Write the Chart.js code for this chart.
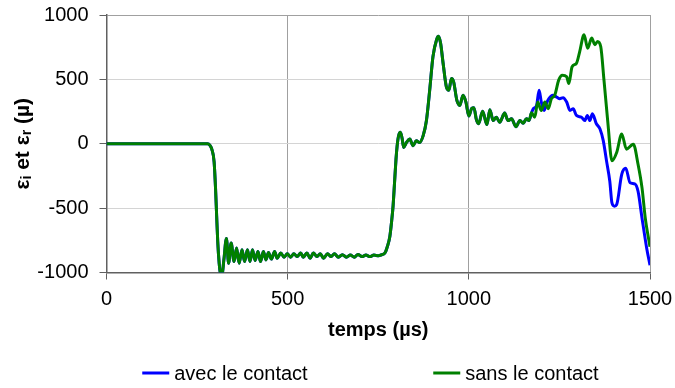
<!DOCTYPE html>
<html>
<head>
<meta charset="utf-8">
<script src="https://cdn.jsdelivr.net/npm/chart.js@4.4.1/dist/chart.umd.min.js"></script>
<style>
  html, body { margin: 0; padding: 0; background: #ffffff; }
  #c { display: block; }
</style>
</head>
<body>
<canvas id="c" width="675" height="388"></canvas>
<script>
// Signal commun aux deux essais (µs, µdéformation)
const tempsCommun = [0, 279, 285, 291, 297, 301, 304, 307, 311, 314,
  319, 324, 331, 337, 344, 352, 359, 366, 374, 381,
  389, 396, 403, 410, 418, 425, 433, 440, 447, 455,
  464, 471, 481, 490, 499, 508, 517, 526, 536, 543,
  553, 562, 571, 581, 590, 599, 610, 620, 629, 640,
  651, 662, 673, 684, 694, 705, 716, 727, 738, 751,
  759, 768, 775, 782, 787, 791, 795, 799, 802, 806,
  811, 816, 820, 828, 837, 846, 855, 864, 874, 883,
  892, 901, 911, 916, 922, 929, 938, 945, 952, 958,
  967, 975, 984, 992, 1000, 1008, 1014, 1021, 1027, 1038,
  1050, 1058, 1067, 1076, 1085, 1099, 1108, 1118, 1130, 1141,
  1150, 1159, 1166];
const deformationCommune = [0, 0, -10, -45, -140, -350, -560, -760, -930, -1000,
  -1010, -900, -735, -928, -771, -915, -810, -928, -823, -915,
  -823, -915, -823, -907, -836, -915, -836, -902, -845, -896,
  -836, -889, -849, -881, -855, -881, -855, -876, -849, -881,
  -849, -889, -849, -876, -855, -889, -855, -876, -855, -881,
  -862, -881, -865, -881, -860, -876, -865, -876, -865, -870,
  -862, -850, -800, -720, -600, -480, -300, -120, -20, 60,
  89, 40, -29, 10, 37, -16, 24, 10, 63, 180,
  416, 677, 808, 834, 782, 625, 442, 416, 507, 481,
  337, 298, 376, 324, 215, 275, 280, 185, 155, 253,
  149, 264, 180, 206, 167, 238, 180, 194, 133, 180,
  159, 194, 180];

// Fin du signal : essai avec le contact
const tempsAvec = [1173, 1178, 1187, 1194, 1200, 1208, 1214, 1221, 1232, 1242,
  1251, 1260, 1270, 1279, 1288, 1297, 1311, 1320, 1327, 1334,
  1341, 1352, 1362, 1371, 1380, 1389, 1395, 1402, 1408, 1422,
  1433, 1445, 1458, 1467, 1478, 1491, 1500];
const avecFin = [240, 272, 298, 416, 324, 259, 311, 350, 376, 363,
  350, 358, 324, 259, 272, 220, 206, 180, 220, 180,
  233, 155, 115, 24, -133, -290, -460, -485, -473, -238,
  -191, -303, -311, -369, -578, -813, -944];

// Fin du signal : essai sans le contact
const tempsSans = [1173, 1182, 1190, 1200, 1210, 1219, 1228, 1237, 1248, 1258,
  1270, 1276, 1285, 1297, 1306, 1318, 1328, 1339, 1348, 1355,
  1364, 1373, 1384, 1395, 1408, 1422, 1435, 1447, 1454, 1467,
  1478, 1487, 1500];
const sansFin = [240, 206, 324, 259, 324, 272, 350, 376, 494, 533,
  520, 468, 598, 625, 716, 847, 742, 821, 769, 795,
  755, 494, 155, -133, -68, 76, -42, -16, -3, -159,
  -343, -578, -800];

const series = ['avec le contact', 'sans le contact'];
const couleurs = ['#0000ff', '#008000'];
const ticksX = [0, 500, 1000, 1500];
const ticksY = [-1000, -500, 0, 500, 1000];

function points(t, v) { return t.map((x, i) => ({ x: x, y: v[i] })); }
const base = points(tempsCommun, deformationCommune);

const police = "'Liberation Sans', Arial, Helvetica, sans-serif";

// Titre de l'axe vertical avec indices
const titreY = {
  id: 'titreY',
  afterDraw(chart) {
    const ctx = chart.ctx;
    const a = chart.chartArea;
    const parts = [['ε', 21, 0], ['i', 14, 4], [' et ε', 21, 0], ['r', 14, 4], [' (µ)', 21, 0]];
    ctx.save();
    let total = 0;
    parts.forEach(p => { ctx.font = 'bold ' + p[1] + 'px ' + police; total += ctx.measureText(p[0]).width; });
    ctx.translate(23, (a.top + a.bottom) / 2);
    ctx.rotate(-Math.PI / 2);
    ctx.fillStyle = '#000';
    ctx.textBaseline = 'middle';
    ctx.textAlign = 'left';
    let x = -total / 2;
    parts.forEach(p => {
      ctx.font = 'bold ' + p[1] + 'px ' + police;
      ctx.fillText(p[0], x, p[2]);
      x += ctx.measureText(p[0]).width;
    });
    ctx.restore();
  }
};

// Légende sous le graphique : deux entrées de part et d'autre du centre
const legende = {
  id: 'legende',
  afterDraw(chart) {
    const ctx = chart.ctx;
    const a = chart.chartArea;
    const centre = (a.left + a.right) / 2;
    const y = 373, trait = 27, ecart = 5;
    const departs = [centre - 236, centre + 55];
    ctx.save();
    ctx.font = '20px ' + police;
    series.forEach((s, i) => {
      const x = departs[i];
      ctx.strokeStyle = couleurs[i];
      ctx.lineWidth = 3;
      ctx.beginPath();
      ctx.moveTo(x, y);
      ctx.lineTo(x + trait, y);
      ctx.stroke();
      ctx.fillStyle = '#000';
      ctx.textBaseline = 'middle';
      ctx.textAlign = 'left';
      ctx.fillText(s, x + trait + ecart, y + 1);
    });
    ctx.restore();
  }
};

const sansSeparateur = v => String(v);

new Chart(document.getElementById('c'), {
  type: 'line',
  data: {
    datasets: [
      {
        label: series[0],
        data: base.concat(points(tempsAvec, avecFin)),
        borderColor: couleurs[0],
        backgroundColor: couleurs[0],
        borderWidth: 3,
        pointRadius: 0,
        cubicInterpolationMode: 'monotone',
        order: 2
      },
      {
        label: series[1],
        data: base.concat(points(tempsSans, sansFin)),
        borderColor: couleurs[1],
        backgroundColor: couleurs[1],
        borderWidth: 3,
        pointRadius: 0,
        cubicInterpolationMode: 'monotone',
        order: 1
      }
    ]
  },
  options: {
    responsive: false,
    devicePixelRatio: 1,
    animation: false,
    layout: { padding: { top: 15, right: 25, bottom: 46, left: 0 } },
    plugins: { legend: { display: false }, tooltip: { enabled: false } },
    scales: {
      x: {
        type: 'linear',
        min: 0, max: 1500,
        afterBuildTicks(scale) { scale.ticks = ticksX.map(v => ({ value: v })); },
        afterFit(scale) {
          scale.height = 69.5;
          scale.paddingLeft = 0; scale.paddingRight = 0;
        },
        ticks: { color: '#000', font: { family: police, size: 20 }, padding: 8, maxRotation: 0, autoSkip: false, callback: sansSeparateur },
        grid: { color: '#a0a0a0', tickColor: '#606060', tickLength: 7, lineWidth: 1 },
        border: { color: '#606060', width: 1.5 },
        title: { display: true, text: 'temps (µs)', color: '#000', font: { family: police, size: 20, weight: 'bold' }, padding: 0 }
      },
      y: {
        type: 'linear',
        min: -1000, max: 1000,
        afterBuildTicks(scale) { scale.ticks = ticksY.map(v => ({ value: v })); },
        afterFit(scale) {
          scale.width = 106.5;
          scale.paddingTop = 0; scale.paddingBottom = 0;
        },
        ticks: { color: '#000', font: { family: police, size: 20 }, padding: 11, autoSkip: false, callback: sansSeparateur },
        grid: {
          color: ctx => (ctx.tick && ctx.tick.value === 1000) ? '#a0a0a0' : '#d4d4d4',
          tickColor: '#606060', tickLength: 7, lineWidth: 1
        },
        border: { color: '#606060', width: 1.5 }
      }
    }
  },
  plugins: [titreY, legende]
});
</script>
</body>
</html>
